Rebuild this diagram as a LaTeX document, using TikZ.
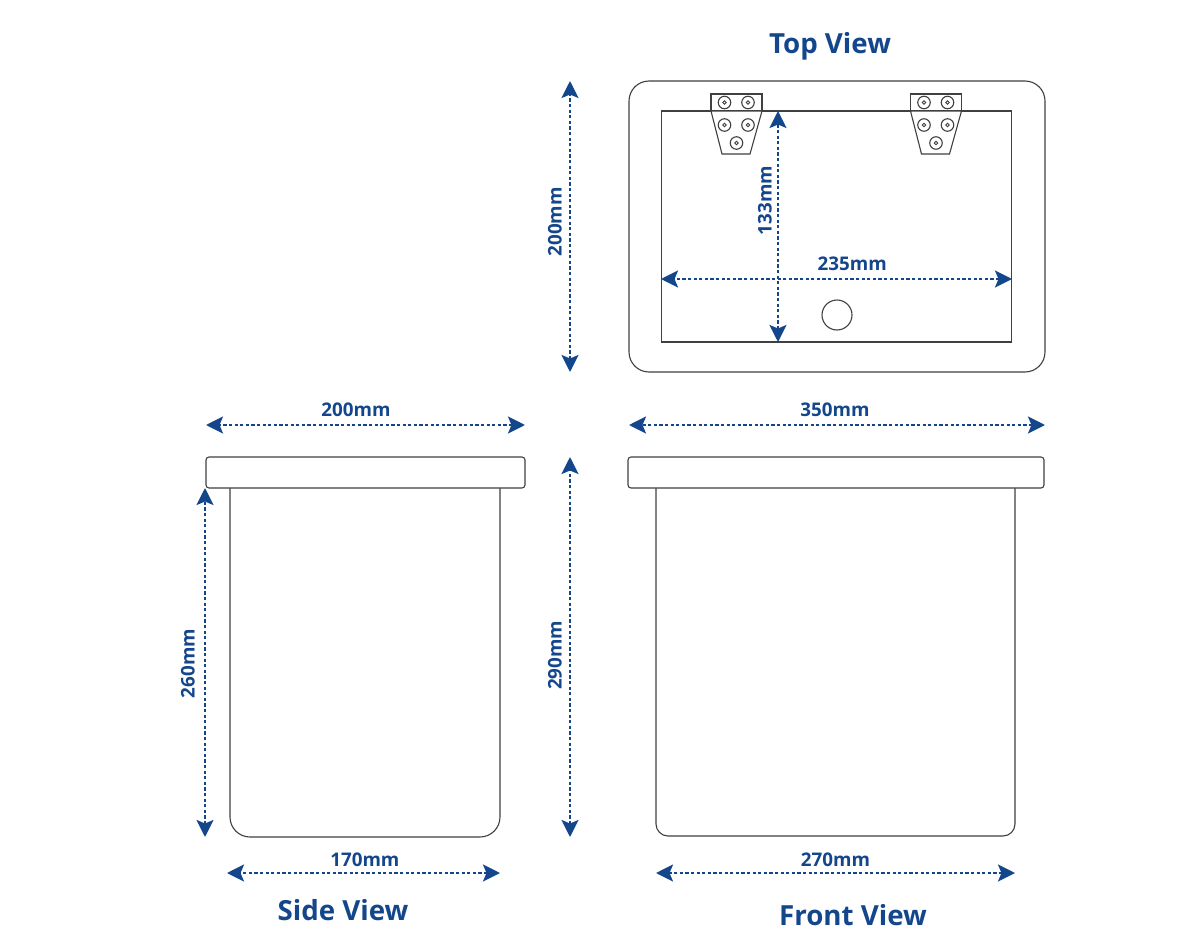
\documentclass[tikz,border=0pt]{standalone}
\usepackage{fontspec}
\setmainfont{Open Sans}
\usetikzlibrary{arrows.meta}
\definecolor{dimblue}{HTML}{14468C}
\definecolor{linegray}{HTML}{404040}
\begin{document}
\begin{tikzpicture}
    [x=1pt,y=-1pt,
     dim/.style={<->,>={Stealth[length=17pt,width=17pt,inset=3.5pt]},dimblue,line width=2.6pt,dash pattern=on 3.2pt off 2.4pt},
     size/.style={solid,text=dimblue,font=\bfseries\fontsize{18.8}{19}\selectfont,inner sep=3pt,above=#1},
     size/.default=4pt,
     upright/.style={solid,text=dimblue,font=\bfseries\fontsize{18.8}{19}\selectfont,inner sep=3pt,rotate=90,anchor=south,yshift=#1},
     title/.style={text=dimblue,font=\bfseries\fontsize{27.7}{28}\selectfont,inner sep=0pt},
     part/.style={draw=linegray,line width=1.1pt,fill=white}]
    \useasboundingbox (0,0) rectangle (1200,950);

    % top view
    \node [part,rounded corners=20pt,minimum width=416pt,minimum height=291pt,inner sep=0pt] (topouter) at (837,226.5) {};
    \node [part,minimum width=350pt,minimum height=231pt,inner sep=0pt] (topinner) at (836.5,226.5) {};
    \node [part,circle,minimum size=30pt,inner sep=0pt] (tophole) at (837,315) {};
    \foreach \hx/\hname in {0/left,199.5/right} {
      \draw [part] (711+\hx,94) rectangle (762+\hx,111);
      \draw [part] (711+\hx,111) -- (722+\hx,154) -- (750+\hx,154) -- (762+\hx,111) -- cycle;
      \foreach \sx/\sy [count=\si] in {724.5/102.5,748/102.5,724.5/125,748/125,736.5/143} {
        \node [part,circle,minimum size=12.5pt,inner sep=0pt,line width=1.1pt] (\hname screw\si) at (\sx+\hx,\sy) {};
        \draw [linegray,line width=0.8pt] (\hname screw\si) circle (1.8pt);
      }
    }

    % side view
    \draw [part,rounded corners=20pt] (230,488) -- (230,837) -- (500,837) -- (500,488);
    \node [part,rounded corners=3pt,minimum width=319pt,minimum height=31pt,inner sep=0pt] (sidelid) at (365.5,472.5) {};

    % front view
    \draw [part,rounded corners=12pt] (656,488) -- (656,836) -- (1015,836) -- (1015,488);
    \node [part,rounded corners=3pt,minimum width=416pt,minimum height=31pt,inner sep=0pt] (frontlid) at (836,472.5) {};

    % dimensions
    \coordinate (a1) at (570,81);
    \coordinate (a2) at (570,372)
      edge [dim] node[upright=4pt,pos=.516] {200mm} (a1);
    \coordinate (b1) at (778,111);
    \coordinate (b2) at (778,342)
      edge [dim] node[upright=2pt,pos=.612] {133mm} (b1);
    \coordinate (c1) at (661,279);
    \coordinate (c2) at (1012,279)
      edge [dim] node[size,pos=.455] {235mm} (c1);
    \coordinate (d1) at (206,425);
    \coordinate (d2) at (525,425)
      edge [dim] node[size,pos=.53] {200mm} (d1);
    \coordinate (e1) at (629,425);
    \coordinate (e2) at (1045,425)
      edge [dim] node[size,pos=.505] {350mm} (e1);
    \coordinate (f1) at (205,488);
    \coordinate (f2) at (205,837)
      edge [dim] node[upright=6pt,pos=.497] {260mm} (f1);
    \coordinate (g1) at (570,457);
    \coordinate (g2) at (570,837)
      edge [dim] node[upright=4pt,pos=.478] {290mm} (g1);
    \coordinate (h1) at (227,873);
    \coordinate (h2) at (500,873)
      edge [dim] node[size=2pt,pos=.495] {170mm} (h1);
    \coordinate (i1) at (656,873);
    \coordinate (i2) at (1015,873)
      edge [dim] node[size=2pt,pos=.5] {270mm} (i1);

    \node [title] (toptitle) at (830,46.5) {Top View};
    \node [title] (sidetitle) at (343,910) {Side View};
    \node [title] (fronttitle) at (853,915) {Front View};
  \end{tikzpicture}
\end{document}
